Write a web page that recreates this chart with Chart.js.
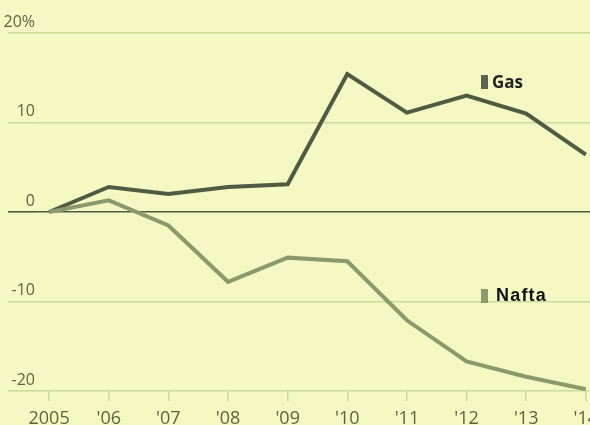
<!DOCTYPE html>
<html>
<head>
<meta charset="utf-8">
<script src="https://cdn.jsdelivr.net/npm/chart.js@4.4.1/dist/chart.umd.min.js"></script>
<style>
  html, body { margin: 0; padding: 0; background: #f5f8c2; }
  #wrap { position: relative; width: 590px; height: 425px; overflow: hidden; }
  .tag { position: absolute; font-weight: bold; color: #222; display: flex; align-items: center; }
  .tag i { display: inline-block; width: 7px; height: 14px; margin-right: 4px; }
</style>
</head>
<body>
<div id="wrap">
  <canvas id="chart" width="590" height="425"></canvas>
  <div class="tag" style="left:481px; top:70px; font-family:'Open Sans', sans-serif; font-size:17px;"><i style="background:#5a6450"></i>Gas</div>
  <div class="tag" style="left:481px; top:285px; font-family:'Liberation Sans', Arial, sans-serif; font-size:18px; letter-spacing:1.2px; color:#111;"><i style="background:#8b9a70; margin-right:8px"></i>Nafta</div>
</div>
<script>
const years = [2005, 2006, 2007, 2008, 2009, 2010, 2011, 2012, 2013, 2014];
const yearLabels = ['2005', "'06", "'07", "'08", "'09", "'10", "'11", "'12", "'13", "'14"];
const gasValues = [0, 2.8, 2.0, 2.8, 3.1, 15.4, 11.1, 13.0, 11.0, 6.4];
const naftaValues = [0, 1.3, -1.5, -7.8, -5.1, -5.5, -12.1, -16.7, -18.4, -19.8];
const yTicks = [-20, -10, 0, 10, 20];

const textColor = '#5d6340';
const gridColor = '#c9dc9c';

const ctx = document.getElementById('chart').getContext('2d');
new Chart(ctx, {
    type: 'line',
    data: {
        datasets: [
            {
                label: 'Nafta',
                data: years.map((y, i) => ({ x: y, y: naftaValues[i] })),
                borderColor: '#8b9a6c',
                borderWidth: 4,
                pointRadius: 0,
                tension: 0,
                fill: false
            },
            {
                label: 'Gas',
                data: years.map((y, i) => ({ x: y, y: gasValues[i] })),
                borderColor: '#4f5b42',
                borderWidth: 4,
                pointRadius: 0,
                tension: 0,
                fill: false
            }
        ]
    },
    options: {
        responsive: false,
        animation: false,
        layout: { padding: { top: 33, right: 0, left: 0, bottom: 0 } },
        plugins: { legend: { display: false }, tooltip: { enabled: false } },
        scales: {
            x: {
                type: 'linear',
                min: 2004.78,
                max: 2014.07,
                afterBuildTicks: scale => { scale.ticks = years.map(v => ({ value: v })); },
                afterFit: scale => {
                    scale.height = 34;
                    scale.paddingLeft = 0;
                    scale.paddingRight = 0;
                },
                border: { display: false },
                grid: {
                    drawOnChartArea: false,
                    drawTicks: true,
                    tickLength: 10,
                    color: gridColor,
                    lineWidth: 1.5
                },
                ticks: {
                    autoSkip: false,
                    maxRotation: 0,
                    padding: 7,
                    color: textColor,
                    font: { family: "'Open Sans', sans-serif", size: 18 },
                    callback: value => yearLabels[years.indexOf(value)]
                }
            },
            y: {
                min: -20,
                max: 20,
                afterBuildTicks: scale => { scale.ticks = yTicks.map(v => ({ value: v })); },
                afterFit: scale => { scale.width = 36; },
                border: { display: false },
                grid: {
                    drawTicks: true,
                    tickLength: 28,
                    color: c => c.tick && c.tick.value === 0 ? '#4f5a40' : gridColor,
                    tickColor: c => c.tick && c.tick.value === 0 ? '#4f5a40' : gridColor,
                    lineWidth: 1.6
                },
                ticks: {
                    padding: -27,
                    labelOffset: -11,
                    color: textColor,
                    font: { family: "'Open Sans', sans-serif", size: 16 },
                    callback: value => value === 20 ? '20%' : String(value)
                }
            }
        }
    }
});
</script>
</body>
</html>
